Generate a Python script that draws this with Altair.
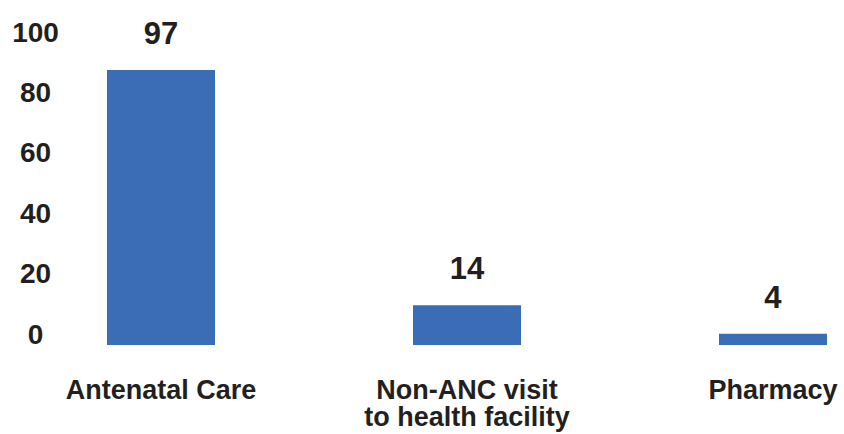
import altair as alt
import pandas as pd

categories = ["Antenatal Care", "Non-ANC visit to health facility", "Pharmacy"]
values = [97, 14, 4]

df = pd.DataFrame({"category": categories, "value": values})

FONT = "Liberation Sans"
TXT = "#231F20"
BAR = "#3A6DB5"

x_enc = alt.X(
    "category:N",
    sort=categories,
    scale=alt.Scale(paddingInner=0.647, paddingOuter=0.049),
    axis=alt.Axis(
        title=None,
        domain=False,
        ticks=False,
        tickSize=0,
        labelAngle=0,
        labelFont=FONT,
        labelFontSize=27,
        labelFontWeight="bold",
        labelColor=TXT,
        labelPadding=32,
        labelLineHeight=27,
        labelBaseline="top",
        labelLimit=400,
        labelExpr="datum.label == 'Non-ANC visit to health facility' ? ['Non-ANC visit', 'to health facility'] : datum.label",
    ),
)

bar_scale = alt.Scale(domain=[0, 116.4], nice=False, zero=True)

bars = alt.Chart(df).mark_bar(color=BAR).encode(
    x=x_enc,
    y=alt.Y("value:Q", scale=bar_scale, axis=None),
)

labels = alt.Chart(df).mark_text(
    font=FONT, fontSize=31, fontWeight="bold", color=TXT,
    baseline="alphabetic", dy=-26,
).encode(
    x=alt.X("category:N", sort=categories),
    y=alt.Y("value:Q", scale=bar_scale, axis=None),
    text=alt.Text("value:Q"),
)

axis_layer = alt.Chart(df).mark_point(opacity=0).encode(
    x=alt.X("category:N", sort=categories),
    y=alt.Y(
        "value:Q",
        scale=alt.Scale(domain=[-3.3, 106.0], nice=False, zero=False),
        axis=alt.Axis(
            orient="left",
            title=None,
            values=[0, 20, 40, 60, 80, 100],
            domain=False,
            ticks=False,
            tickSize=0,
            grid=False,
            labelFont=FONT,
            labelFontSize=28,
            labelFontWeight="bold",
            labelColor=TXT,
            labelAlign="center",
            labelBaseline="middle",
            labelPadding=57,
        ),
    ),
)

chart = (
    alt.layer(bars, labels, axis_layer)
    .resolve_scale(y="independent")
    .properties(
        width=750,
        height=330,
        autosize=alt.AutoSizeParams(type="none"),
        padding={"left": 92, "top": 15, "right": 2, "bottom": 89},
        background="white",
    )
    .configure_view(stroke=None)
)

chart.save("out.html", embed_options={"renderer": "svg", "actions": False})
